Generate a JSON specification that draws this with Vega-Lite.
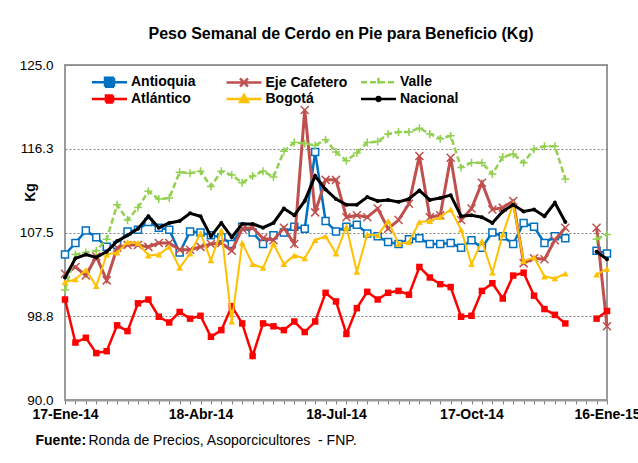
{
  "$schema": "https://vega.github.io/schema/vega-lite/v6.json",
  "autosize": {"type": "none"},
  "width": 542,
  "height": 335,
  "padding": {"left": 65, "top": 65, "right": 31, "bottom": 63},
  "background": "#ffffff",
  "config": {
    "font": "Liberation Sans",
    "view": {"stroke": "#9a9a9a", "strokeWidth": 2}
  },
  "title": {
    "text": "Peso Semanal de Cerdo en Pie para Beneficio (Kg)",
    "font": "Liberation Sans", "fontSize": 16, "fontWeight": "bold", "color": "#000000",
    "anchor": "middle", "frame": "group", "offset": 16, "dx": 5
  },
  "data": {
    "values": [
      {"fecha": "2014-01-17", "Antioquia": 105.2, "Eje Cafetero": 103.2, "Valle": 101.5, "Atlántico": 100.5, "Bogotá": 102.3, "Nacional": 102.8},
      {"fecha": "2014-01-24", "Antioquia": 106.4, "Eje Cafetero": 103.9, "Valle": 105.2, "Atlántico": 96.0, "Bogotá": 102.6, "Nacional": 104.8},
      {"fecha": "2014-01-31", "Antioquia": 107.7, "Eje Cafetero": 103.0, "Valle": 105.4, "Atlántico": 96.5, "Bogotá": 103.6, "Nacional": 105.2},
      {"fecha": "2014-02-07", "Antioquia": 107.0, "Eje Cafetero": 105.0, "Valle": 105.6, "Atlántico": 94.9, "Bogotá": 101.9, "Nacional": 104.9},
      {"fecha": "2014-02-14", "Antioquia": 106.0, "Eje Cafetero": 102.5, "Valle": 106.8, "Atlántico": 95.1, "Bogotá": 105.2, "Nacional": 105.5},
      {"fecha": "2014-02-21", "Antioquia": 106.2, "Eje Cafetero": 105.9, "Valle": 110.4, "Atlántico": 97.8, "Bogotá": 105.4, "Nacional": 106.6},
      {"fecha": "2014-02-28", "Antioquia": 107.6, "Eje Cafetero": 106.2, "Valle": 108.8, "Atlántico": 97.2, "Bogotá": 106.5, "Nacional": 107.2},
      {"fecha": "2014-03-07", "Antioquia": 107.8, "Eje Cafetero": 106.2, "Valle": 110.1, "Atlántico": 100.1, "Bogotá": 106.4, "Nacional": 107.9},
      {"fecha": "2014-03-14", "Antioquia": 108.6, "Eje Cafetero": 106.0, "Valle": 111.8, "Atlántico": 100.5, "Bogotá": 105.1, "Nacional": 109.2},
      {"fecha": "2014-03-21", "Antioquia": 108.0, "Eje Cafetero": 106.4, "Valle": 111.0, "Atlántico": 98.7, "Bogotá": 105.2, "Nacional": 108.0},
      {"fecha": "2014-03-28", "Antioquia": 107.8, "Eje Cafetero": 106.4, "Valle": 111.1, "Atlántico": 98.1, "Bogotá": 106.0, "Nacional": 108.5},
      {"fecha": "2014-04-04", "Antioquia": 105.4, "Eje Cafetero": 105.7, "Valle": 113.8, "Atlántico": 99.2, "Bogotá": 103.8, "Nacional": 108.7},
      {"fecha": "2014-04-11", "Antioquia": 107.6, "Eje Cafetero": 105.7, "Valle": 113.7, "Atlántico": 98.5, "Bogotá": 105.3, "Nacional": 109.5},
      {"fecha": "2014-04-18", "Antioquia": 107.5, "Eje Cafetero": 106.0, "Valle": 113.9, "Atlántico": 98.8, "Bogotá": 107.4, "Nacional": 109.2},
      {"fecha": "2014-04-25", "Antioquia": 107.2, "Eje Cafetero": 106.3, "Valle": 112.3, "Atlántico": 96.6, "Bogotá": 104.6, "Nacional": 107.1},
      {"fecha": "2014-05-02", "Antioquia": 107.0, "Eje Cafetero": 106.4, "Valle": 113.9, "Atlántico": 97.3, "Bogotá": 107.7, "Nacional": 108.5},
      {"fecha": "2014-05-09", "Antioquia": 106.3, "Eje Cafetero": 105.6, "Valle": 113.5, "Atlántico": 99.8, "Bogotá": 98.2, "Nacional": 107.0},
      {"fecha": "2014-05-16", "Antioquia": 108.1, "Eje Cafetero": 107.9, "Valle": 112.7, "Atlántico": 98.0, "Bogotá": 106.4, "Nacional": 108.4},
      {"fecha": "2014-05-23", "Antioquia": 107.5, "Eje Cafetero": 108.0, "Valle": 113.4, "Atlántico": 94.6, "Bogotá": 104.2, "Nacional": 108.4},
      {"fecha": "2014-05-30", "Antioquia": 106.3, "Eje Cafetero": 106.9, "Valle": 113.9, "Atlántico": 98.0, "Bogotá": 103.8, "Nacional": 108.0},
      {"fecha": "2014-06-06", "Antioquia": 107.2, "Eje Cafetero": 106.7, "Valle": 113.3, "Atlántico": 97.7, "Bogotá": 106.3, "Nacional": 108.5},
      {"fecha": "2014-06-13", "Antioquia": 107.5, "Eje Cafetero": 108.0, "Valle": 116.0, "Atlántico": 97.3, "Bogotá": 104.2, "Nacional": 110.0},
      {"fecha": "2014-06-20", "Antioquia": 108.1, "Eje Cafetero": 106.3, "Valle": 116.9, "Atlántico": 98.2, "Bogotá": 105.1, "Nacional": 109.3},
      {"fecha": "2014-06-27", "Antioquia": 107.9, "Eje Cafetero": 120.3, "Valle": 116.8, "Atlántico": 97.1, "Bogotá": 104.8, "Nacional": 110.8},
      {"fecha": "2014-07-04", "Antioquia": 115.9, "Eje Cafetero": 109.6, "Valle": 116.6, "Atlántico": 98.2, "Bogotá": 106.7, "Nacional": 113.4},
      {"fecha": "2014-07-11", "Antioquia": 108.7, "Eje Cafetero": 113.0, "Valle": 117.2, "Atlántico": 101.2, "Bogotá": 107.1, "Nacional": 112.0},
      {"fecha": "2014-07-18", "Antioquia": 107.6, "Eje Cafetero": 113.0, "Valle": 115.9, "Atlántico": 100.3, "Bogotá": 105.3, "Nacional": 111.0},
      {"fecha": "2014-07-25", "Antioquia": 108.1, "Eje Cafetero": 109.1, "Valle": 115.0, "Atlántico": 96.9, "Bogotá": 108.1, "Nacional": 110.4},
      {"fecha": "2014-08-01", "Antioquia": 108.3, "Eje Cafetero": 109.3, "Valle": 115.8, "Atlántico": 99.6, "Bogotá": 103.4, "Nacional": 110.4},
      {"fecha": "2014-08-08", "Antioquia": 107.4, "Eje Cafetero": 109.1, "Valle": 116.9, "Atlántico": 101.3, "Bogotá": 107.3, "Nacional": 111.2},
      {"fecha": "2014-08-15", "Antioquia": 107.1, "Eje Cafetero": 110.0, "Valle": 117.0, "Atlántico": 100.5, "Bogotá": 107.2, "Nacional": 110.8},
      {"fecha": "2014-08-22", "Antioquia": 106.5, "Eje Cafetero": 107.9, "Valle": 117.8, "Atlántico": 101.2, "Bogotá": 108.7, "Nacional": 110.9},
      {"fecha": "2014-08-29", "Antioquia": 106.3, "Eje Cafetero": 108.8, "Valle": 118.0, "Atlántico": 101.4, "Bogotá": 106.3, "Nacional": 110.7},
      {"fecha": "2014-09-05", "Antioquia": 106.8, "Eje Cafetero": 110.5, "Valle": 118.0, "Atlántico": 101.0, "Bogotá": 106.5, "Nacional": 111.0},
      {"fecha": "2014-09-12", "Antioquia": 106.9, "Eje Cafetero": 115.5, "Valle": 118.4, "Atlántico": 103.9, "Bogotá": 108.6, "Nacional": 111.9},
      {"fecha": "2014-09-19", "Antioquia": 106.3, "Eje Cafetero": 109.1, "Valle": 117.8, "Atlántico": 102.8, "Bogotá": 108.7, "Nacional": 110.9},
      {"fecha": "2014-09-26", "Antioquia": 106.3, "Eje Cafetero": 109.3, "Valle": 117.3, "Atlántico": 102.1, "Bogotá": 109.1, "Nacional": 111.1},
      {"fecha": "2014-10-03", "Antioquia": 106.4, "Eje Cafetero": 115.3, "Valle": 117.6, "Atlántico": 101.8, "Bogotá": 109.9, "Nacional": 111.4},
      {"fecha": "2014-10-10", "Antioquia": 105.9, "Eje Cafetero": 108.8, "Valle": 114.3, "Atlántico": 98.7, "Bogotá": 107.8, "Nacional": 109.2},
      {"fecha": "2014-10-17", "Antioquia": 106.7, "Eje Cafetero": 110.0, "Valle": 114.8, "Atlántico": 98.8, "Bogotá": 104.2, "Nacional": 109.3},
      {"fecha": "2014-10-24", "Antioquia": 105.9, "Eje Cafetero": 112.7, "Valle": 114.8, "Atlántico": 101.4, "Bogotá": 106.6, "Nacional": 109.1},
      {"fecha": "2014-10-31", "Antioquia": 107.5, "Eje Cafetero": 109.9, "Valle": 113.6, "Atlántico": 102.2, "Bogotá": 103.3, "Nacional": 108.5},
      {"fecha": "2014-11-07", "Antioquia": 107.1, "Eje Cafetero": 110.1, "Valle": 115.4, "Atlántico": 100.6, "Bogotá": 107.3, "Nacional": 109.7},
      {"fecha": "2014-11-14", "Antioquia": 106.3, "Eje Cafetero": 110.8, "Valle": 115.7, "Atlántico": 103.0, "Bogotá": 110.5, "Nacional": 110.4},
      {"fecha": "2014-11-21", "Antioquia": 108.5, "Eje Cafetero": 104.3, "Valle": 114.8, "Atlántico": 103.3, "Bogotá": 104.5, "Nacional": 109.7},
      {"fecha": "2014-11-28", "Antioquia": 108.1, "Eje Cafetero": 104.8, "Valle": 116.2, "Atlántico": 100.9, "Bogotá": 104.9, "Nacional": 109.9},
      {"fecha": "2014-12-05", "Antioquia": 106.4, "Eje Cafetero": 104.7, "Valle": 116.5, "Atlántico": 99.5, "Bogotá": 102.9, "Nacional": 109.2},
      {"fecha": "2014-12-12", "Antioquia": 107.1, "Eje Cafetero": 106.7, "Valle": 116.5, "Atlántico": 98.9, "Bogotá": 102.7, "Nacional": 110.6},
      {"fecha": "2014-12-19", "Antioquia": 106.9, "Eje Cafetero": 108.0, "Valle": 113.1, "Atlántico": 98.0, "Bogotá": 103.2, "Nacional": 108.6},
      {"fecha": "2014-12-26", "Antioquia": null, "Eje Cafetero": null, "Valle": null, "Atlántico": null, "Bogotá": null, "Nacional": null},
      {"fecha": "2015-01-02", "Antioquia": null, "Eje Cafetero": null, "Valle": null, "Atlántico": null, "Bogotá": null, "Nacional": null},
      {"fecha": "2015-01-09", "Antioquia": 105.6, "Eje Cafetero": 108.0, "Valle": 106.8, "Atlántico": 98.5, "Bogotá": 103.1, "Nacional": 105.5},
      {"fecha": "2015-01-16", "Antioquia": 105.3, "Eje Cafetero": 97.7, "Valle": 107.3, "Atlántico": 99.3, "Bogotá": 103.7, "Nacional": 104.7}
    ]
  },
  "transform": [
    {"fold": ["Antioquia", "Eje Cafetero", "Valle", "Atlántico", "Bogotá", "Nacional"], "as": ["serie", "kg"]}
  ],
  "encoding": {
    "x": {
      "field": "fecha", "type": "temporal",
      "scale": {"type": "utc", "domain": [{"year": 2014, "month": 1, "date": 17, "utc": true}, {"year": 2015, "month": 1, "date": 16, "utc": true}], "nice": false},
      "axis": null
    },
    "y": {
      "field": "kg", "type": "quantitative",
      "scale": {"domain": [90, 125], "nice": false, "zero": false},
      "axis": {
        "values": [90, 98.75, 107.5, 116.25, 125], "format": ".1f",
        "title": "Kg", "titleFont": "Liberation Sans", "titleFontSize": 14, "titleFontWeight": "bold", "titleColor": "#000000",
        "titleAngle": 270, "titleX": -35, "titleY": 127, "titleAlign": "center", "titleBaseline": "middle",
        "labelFont": "Liberation Sans", "labelFontSize": 13.5, "labelColor": "#000000", "labelPadding": 12,
        "ticks": false, "domain": false,
        "grid": true, "gridColor": "#808080", "gridDash": [2, 2], "gridWidth": 1
      }
    },
    "color": {
      "field": "serie", "type": "nominal",
      "scale": {
        "domain": ["Antioquia", "Eje Cafetero", "Valle", "Atlántico", "Bogotá", "Nacional"],
        "range": ["#0070C0", "#C0504D", "#92D050", "#FF0000", "#FFC000", "#000000"]
      },
      "legend": {
        "title": null, "orient": "none", "legendX": 27, "legendY": 10, "columns": 3, "direction": "horizontal",
        "gridAlign": "all", "columnPadding": 8.5, "rowPadding": -7, "padding": 0,
        "symbolSize": 100, "symbolStrokeWidth": 2.5, "symbolOffset": 10.5,
        "labelFont": "Liberation Sans", "labelFontSize": 14, "labelFontWeight": "bold", "labelColor": "#000000", "labelOffset": 14.5,
        "encode": {
          "symbols": {
            "update": {
              "shape": {"signal": "datum.value === 'Antioquia' ? 'M-3.5,0H-0.9M0.9,0H3.5M-0.9,-0.9H0.9V0.9H-0.9Z' : datum.value === 'Eje Cafetero' ? 'M-3.5,0H3.5M-0.8,-0.8L0.8,0.8M-0.8,0.8L0.8,-0.8' : datum.value === 'Valle' ? 'M-3.5,0H3.5M0,-0.9V0.9' : datum.value === 'Atlántico' ? 'M-3.5,0H3.5M-0.7,-0.7H0.7V0.7H-0.7Z' : datum.value === 'Bogotá' ? 'M-3.5,0H3.5M0,-0.8L0.8,0.6H-0.8Z' : 'M-3.5,0H3.5M0.4,0A0.4,0.4,0,1,1,-0.4,0A0.4,0.4,0,1,1,0.4,0Z'"},
              "fill": {"signal": "datum.value === 'Antioquia' ? '#ffffff' : datum.value === 'Atlántico' ? '#FF0000' : datum.value === 'Bogotá' ? '#FFC000' : datum.value === 'Nacional' ? '#000000' : 'transparent'"},
              "stroke": {"scale": "color", "field": "value"},
              "strokeDash": {"signal": "datum.value === 'Valle' ? [6, 3] : [1, 0]"},
              "opacity": {"value": 1}
            }
          }
        }
      }
    }
  },
  "resolve": {"axis": {"x": "independent"}},
  "layer": [
    {
      "transform": [{"filter": "datum.serie === 'Antioquia'"}],
      "mark": {"type": "line", "strokeWidth": 2.5, "point": {"shape": "square", "size": 49, "filled": false, "fill": "#ffffff", "strokeWidth": 1.5}},
      "encoding": {
        "x": {
          "field": "fecha", "type": "temporal",
          "scale": {"type": "utc", "domain": [{"year": 2014, "month": 1, "date": 17, "utc": true}, {"year": 2015, "month": 1, "date": 16, "utc": true}], "nice": false},
          "axis": {
            "orient": "bottom",
            "values": [1389916800000, 1390521600000, 1391126400000, 1391731200000, 1392336000000, 1392940800000, 1393545600000, 1394150400000, 1394755200000, 1395360000000, 1395964800000, 1396569600000, 1397174400000, 1397779200000, 1398384000000, 1398988800000, 1399593600000, 1400198400000, 1400803200000, 1401408000000, 1402012800000, 1402617600000, 1403222400000, 1403827200000, 1404432000000, 1405036800000, 1405641600000, 1406246400000, 1406851200000, 1407456000000, 1408060800000, 1408665600000, 1409270400000, 1409875200000, 1410480000000, 1411084800000, 1411689600000, 1412294400000, 1412899200000, 1413504000000, 1414108800000, 1414713600000, 1415318400000, 1415923200000, 1416528000000, 1417132800000, 1417737600000, 1418342400000, 1418947200000, 1419552000000, 1420156800000, 1420761600000, 1421366400000],
            "labelExpr": "((+datum.value - 1389916800000) % 7862400000 === 0) ? (utcdate(datum.value) + '-' + ['Ene','Feb','Mar','Abr','May','Jun','Jul','Ago','Sep','Oct','Nov','Dic'][utcmonth(datum.value)] + '-' + utcFormat(datum.value, '%y')) : ''",
            "labelOverlap": false, "labelBound": false, "labelFlush": false,
            "labelFont": "Liberation Sans", "labelFontSize": 14, "labelFontWeight": "bold", "labelColor": "#000000", "labelPadding": 3,
            "ticks": true, "tickSize": 4, "tickColor": "#808080", "tickWidth": 1,
            "domain": true, "domainColor": "#9a9a9a", "domainWidth": 2,
            "grid": false,
            "title": "Fuente:", "titleFont": "Liberation Sans", "titleFontSize": 14, "titleFontWeight": "bold", "titleColor": "#000000",
            "titleX": -30, "titleY": 40, "titleAlign": "left", "titleBaseline": "middle", "titleAnchor": null
          }
        }
      }
    },
    {
      "transform": [{"filter": "datum.serie === 'Eje Cafetero'"}],
      "mark": {"type": "line", "strokeWidth": 3, "point": {"shape": "M-1,-1L1,1M-1,1L1,-1", "size": 64, "filled": false, "strokeWidth": 1.5}},
      "encoding": {
        "x": {
          "field": "fecha", "type": "temporal",
          "scale": {"type": "utc", "domain": [{"year": 2014, "month": 1, "date": 17, "utc": true}, {"year": 2015, "month": 1, "date": 16, "utc": true}], "nice": false},
          "axis": {
            "orient": "bottom", "labels": false, "ticks": false, "domain": false, "grid": false,
            "title": "Ronda de Precios, Asoporcicultores \u00a0- FNP.", "titleFont": "Liberation Sans", "titleFontSize": 14, "titleFontWeight": "normal", "titleColor": "#000000",
            "titleX": 23, "titleY": 40, "titleAlign": "left", "titleBaseline": "middle", "titleAnchor": null
          }
        }
      }
    },
    {
      "transform": [{"filter": "datum.serie === 'Valle'"}],
      "mark": {"type": "line", "strokeWidth": 2.5, "strokeDash": [6, 3], "point": {"shape": "M-1,0H1M0,-1V1", "size": 64, "filled": false, "strokeWidth": 1.5}}
    },
    {
      "transform": [{"filter": "datum.serie === 'Atlántico'"}],
      "mark": {"type": "line", "strokeWidth": 2.5, "point": {"shape": "square", "size": 42, "filled": true}}
    },
    {
      "transform": [{"filter": "datum.serie === 'Bogotá'"}],
      "mark": {"type": "line", "strokeWidth": 2, "point": {"shape": "triangle-up", "size": 45, "filled": true}}
    },
    {
      "transform": [{"filter": "datum.serie === 'Nacional'"}],
      "mark": {"type": "line", "strokeWidth": 3, "point": {"shape": "circle", "size": 16, "filled": true}}
    }
  ]
}
